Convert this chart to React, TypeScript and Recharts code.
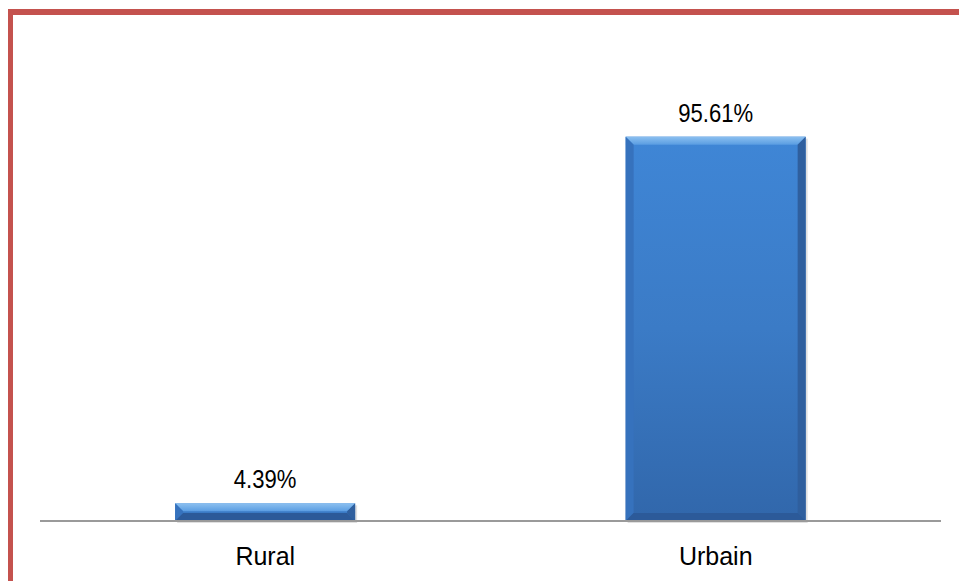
import { BarChart, Bar, XAxis, YAxis, LabelList } from 'recharts';

const categories = ['Rural', 'Urbain'];
const shares = [4.39, 95.61];

const chartData = categories.map((c, i) => ({ zone: c, share: shares[i] }));

const FONT = '"Liberation Sans", Arial, sans-serif';

function BevelBar(props: { x?: number; y?: number; width?: number; height?: number }) {
  const { x = 0, y = 0, width = 0, height = 0 } = props;
  if (height <= 0) return null;
  const b = Math.min(8, height / 2.2);
  const r = x + width;
  const bot = y + height;
  return (
    <g>
      <rect x={x + 2} y={y + 2} width={width} height={height} fill="rgba(0,0,0,0.12)" />
      <rect x={x} y={y} width={width} height={height} fill="url(#bar-body)" />
      {/* top bevel */}
      <polygon points={`${x},${y} ${r},${y} ${r - b},${y + b} ${x + b},${y + b}`} fill="url(#bar-top)" />
      {/* left bevel */}
      <polygon points={`${x},${y} ${x + b},${y + b} ${x + b},${bot - b} ${x},${bot}`} fill="#3672bd" />
      {/* right bevel */}
      <polygon points={`${r},${y} ${r - b},${y + b} ${r - b},${bot - b} ${r},${bot}`} fill="#2f5f9e" />
      {/* bottom bevel */}
      <polygon points={`${x},${bot} ${x + b},${bot - b} ${r - b},${bot - b} ${r},${bot}`} fill="#2c5a99" />
    </g>
  );
}

// value labels in the original look squeezed sideways
function ValueLabel(props: { x?: number; y?: number; width?: number; value?: number }) {
  const { x = 0, y = 0, width = 0, value = 0 } = props;
  const cx = Number(x) + Number(width) / 2;
  return (
    <text
      transform={`translate(${cx},${Number(y) - 15}) scale(0.85,1)`}
      textAnchor="middle"
      fill="#000"
      fontSize={26}
      fontFamily={FONT}
    >
      {`${Number(value).toFixed(2)}%`}
    </text>
  );
}

function ZoneTick(props: { x?: number; y?: number; payload?: { value: string } }) {
  const { x = 0, y = 0, payload } = props;
  return (
    <text x={x} y={Number(y) + 16} textAnchor="middle" fill="#000" fontSize={25} fontFamily={FONT}>
      {payload?.value}
    </text>
  );
}

export default function App() {
  document.body.style.margin = '0';
  return (
    <div style={{ position: 'relative', width: 959, height: 581, background: '#fff', overflow: 'hidden' }}>
      <div
        style={{
          position: 'absolute', left: 8, top: 9, width: 980, height: 600,
          borderLeft: '5px solid #c4524e', borderTop: '6px solid #c4524e',
        }}
      />
      <div style={{ position: 'absolute', left: 0, top: 0 }}>
        <BarChart
          width={959}
          height={581}
          data={chartData}
          margin={{ top: 119, right: 18, left: 40, bottom: 20 }}
          barCategoryGap="30%"
        >
          <defs>
            <linearGradient id="bar-body" x1="0" y1="0" x2="0" y2="1">
              <stop offset="0%" stopColor="#3f86d6" />
              <stop offset="50%" stopColor="#3b7bc6" />
              <stop offset="100%" stopColor="#3167ab" />
            </linearGradient>
            <linearGradient id="bar-top" x1="0" y1="0" x2="0" y2="1">
              <stop offset="0%" stopColor="#8cc0f0" />
              <stop offset="100%" stopColor="#5a9de2" />
            </linearGradient>
          </defs>
          <YAxis hide domain={[0, 100]} />
          <XAxis
            dataKey="zone"
            height={40}
            tickLine={false}
            tickMargin={22}
            axisLine={{ stroke: '#9a9a9a', strokeWidth: 2 }}
            tick={<ZoneTick />}
          />
          <Bar dataKey="share" shape={<BevelBar />} isAnimationActive={false}>
            <LabelList dataKey="share" content={<ValueLabel />} />
          </Bar>
        </BarChart>
      </div>
    </div>
  );
}
